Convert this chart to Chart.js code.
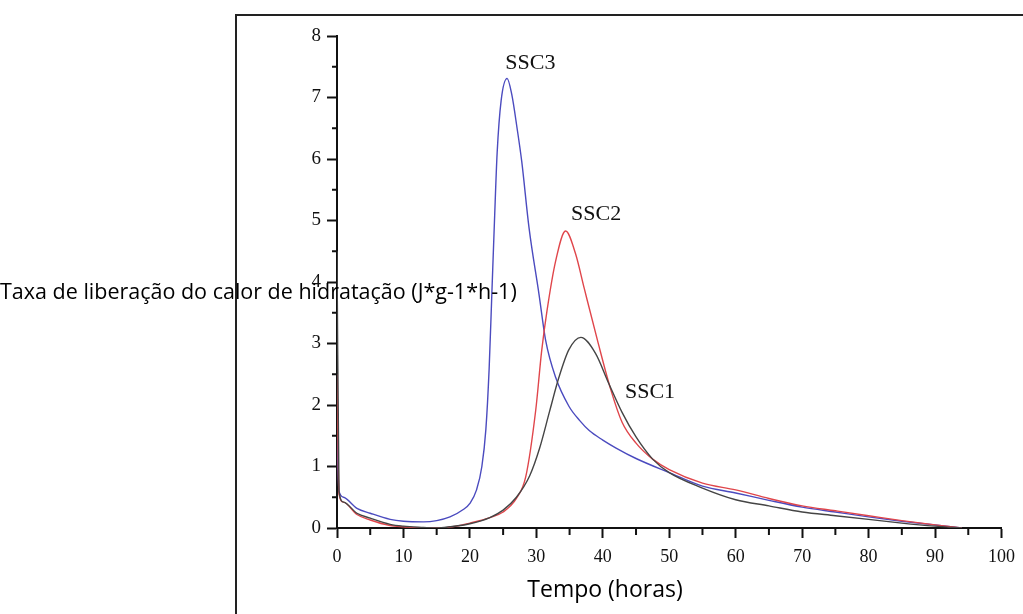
<!DOCTYPE html>
<html>
<head>
<meta charset="utf-8">
<script src="https://cdn.jsdelivr.net/npm/chart.js@4/dist/chart.umd.min.js"></script>
<style>
  html, body { margin: 0; padding: 0; background: #fff; }
  #wrap { width: 1023px; height: 614px; }
</style>
</head>
<body>
<div id="wrap"><canvas id="grafico-calor" width="1023" height="614"></canvas></div>
<script>
// dados (tempo em horas, taxa em J*g-1*h-1)
const ssc1Tempo = [0, 0.3, 1, 3, 5, 8, 10, 13, 15, 17, 20, 23, 25, 27, 29, 30.5, 32, 33.4, 34.9, 36.7, 38.9, 40.9, 42.9, 45, 47.5, 50, 55, 60, 65, 70, 75, 80, 85, 90, 94];
const ssc1Taxa  = [4.5, 0.6, 0.42, 0.24, 0.16, 0.06, 0.03, 0.01, 0, 0.02, 0.07, 0.17, 0.29, 0.5, 0.85, 1.3, 1.9, 2.45, 2.9, 3.1, 2.84, 2.35, 1.88, 1.48, 1.12, 0.9, 0.65, 0.46, 0.36, 0.26, 0.2, 0.14, 0.08, 0.03, 0];

const ssc2Tempo = [0, 0.3, 1, 3, 5, 8, 10, 13, 15, 18, 20, 23, 25, 27, 28.4, 29.9, 30.8, 31.6, 32.9, 34.4, 35.9, 37.2, 39.2, 41.2, 42.9, 45, 47.5, 50, 55, 60, 65, 70, 75, 80, 85, 90, 94];
const ssc2Taxa  = [2.5, 0.55, 0.42, 0.22, 0.13, 0.04, 0.02, 0, 0, 0.03, 0.08, 0.17, 0.26, 0.48, 0.83, 1.91, 2.88, 3.53, 4.34, 4.83, 4.46, 3.9, 3.05, 2.25, 1.72, 1.38, 1.12, 0.95, 0.73, 0.62, 0.48, 0.36, 0.28, 0.2, 0.12, 0.05, 0];

const ssc3Tempo = [0, 0.3, 1, 3, 5, 8, 10, 13, 15, 17, 19, 20, 21, 21.8, 22.4, 22.9, 23.3, 23.7, 24.1, 24.7, 25.6, 26.3, 27.1, 27.8, 28.9, 30.4, 31.4, 32.9, 34.9, 36.5, 38, 40, 42, 45, 50, 55, 60, 65, 70, 75, 80, 85, 90, 94];
const ssc3Taxa  = [1.5, 0.6, 0.5, 0.32, 0.24, 0.14, 0.11, 0.1, 0.12, 0.18, 0.3, 0.4, 0.62, 1.0, 1.6, 2.6, 3.8, 5.0, 6.1, 6.95, 7.31, 7.05, 6.5, 5.96, 4.88, 3.8, 3.05, 2.45, 1.98, 1.75, 1.58, 1.43, 1.3, 1.13, 0.9, 0.68, 0.57, 0.45, 0.34, 0.26, 0.18, 0.11, 0.05, 0];

const nomesSeries = ["SSC1", "SSC2", "SSC3"];
// onde fica o nome de cada curva (tempo, taxa)
const rotuloTempo = [47.1, 39.0, 29.1];
const rotuloTaxa  = [2.21, 5.1, 7.56];

const ticksX = [0, 10, 20, 30, 40, 50, 60, 70, 80, 90, 100];
const ticksY = [0, 1, 2, 3, 4, 5, 6, 7, 8];

const tituloY = "Taxa de liberação do calor de hidratação (J*g-1*h-1)";
const tituloX = "Tempo (horas)";

const cores = ["#454545", "#e0464b", "#4b4bbf"];

function pontos(tempo, taxa) {
  return tempo.map((t, i) => ({ x: t, y: taxa[i] }));
}

const serif = "'Liberation Serif', 'Times New Roman', serif";
const sans = "'Open Sans', 'Liberation Sans', sans-serif";

// moldura, ticks menores, nomes das curvas e títulos
const extras = {
  id: "extras",
  afterDraw(chart) {
    const ctx = chart.ctx;
    const x = chart.scales.x, y = chart.scales.y;
    ctx.save();

    // moldura da figura
    ctx.strokeStyle = "#222";
    ctx.lineWidth = 2;
    ctx.beginPath();
    ctx.moveTo(236, 614);
    ctx.lineTo(236, 15);
    ctx.lineTo(1023, 15);
    ctx.stroke();

    // ticks menores
    ctx.strokeStyle = "#111";
    ctx.lineWidth = 2;
    ctx.beginPath();
    for (let v = 5; v < 100; v += 10) {
      const px = x.getPixelForValue(v);
      ctx.moveTo(px, y.bottom);
      ctx.lineTo(px, y.bottom + 7);
    }
    for (let v = 0.5; v < 8; v += 1) {
      const py = y.getPixelForValue(v);
      ctx.moveTo(x.left, py);
      ctx.lineTo(x.left - 5, py);
    }
    ctx.stroke();

    // nomes das curvas
    ctx.fillStyle = "#111";
    ctx.font = "22px " + serif;
    ctx.textAlign = "center";
    ctx.textBaseline = "middle";
    nomesSeries.forEach((n, i) => {
      ctx.fillText(n, x.getPixelForValue(rotuloTempo[i]), y.getPixelForValue(rotuloTaxa[i]));
    });

    // títulos
    ctx.fillStyle = "#000";
    ctx.textBaseline = "alphabetic";
    ctx.font = "21.5px " + sans;
    ctx.textAlign = "left";
    ctx.fillText(tituloY, 0, 299);
    ctx.font = "23px " + sans;
    ctx.textAlign = "center";
    ctx.fillText(tituloX, 605, 597);

    ctx.restore();
  }
};

const ctx = document.getElementById("grafico-calor").getContext("2d");

new Chart(ctx, {
  type: "line",
  data: {
    datasets: [
      { label: nomesSeries[0], data: pontos(ssc1Tempo, ssc1Taxa), borderColor: cores[0] },
      { label: nomesSeries[1], data: pontos(ssc2Tempo, ssc2Taxa), borderColor: cores[1] },
      { label: nomesSeries[2], data: pontos(ssc3Tempo, ssc3Taxa), borderColor: cores[2] }
    ]
  },
  options: {
    responsive: false,
    animation: false,
    datasets: {
      line: {
        borderWidth: 1.4,
        pointRadius: 0,
        fill: false,
        cubicInterpolationMode: "monotone"
      }
    },
    layout: { padding: { top: 36, right: 20, left: 0, bottom: 0 } },
    plugins: {
      legend: { display: false },
      tooltip: { enabled: false }
    },
    scales: {
      x: {
        type: "linear",
        min: 0,
        max: 100,
        afterFit: s => { s.height = 86; },
        afterBuildTicks: s => { s.ticks = ticksX.map(v => ({ value: v })); },
        ticks: { color: "#111", padding: 8, font: { family: serif, size: 18 } },
        grid: { drawOnChartArea: false, tickLength: 10, tickColor: "#111", tickWidth: 2 },
        border: { color: "#111", width: 2 }
      },
      y: {
        type: "linear",
        min: 0,
        max: 8,
        afterFit: s => { s.width = 337; },
        afterBuildTicks: s => { s.ticks = ticksY.map(v => ({ value: v })); },
        ticks: { color: "#111", padding: 6, font: { family: serif, size: 19 } },
        grid: { drawOnChartArea: false, tickLength: 10, tickColor: "#111", tickWidth: 2 },
        border: { color: "#111", width: 2 }
      }
    }
  },
  plugins: [extras]
});
</script>
</body>
</html>
